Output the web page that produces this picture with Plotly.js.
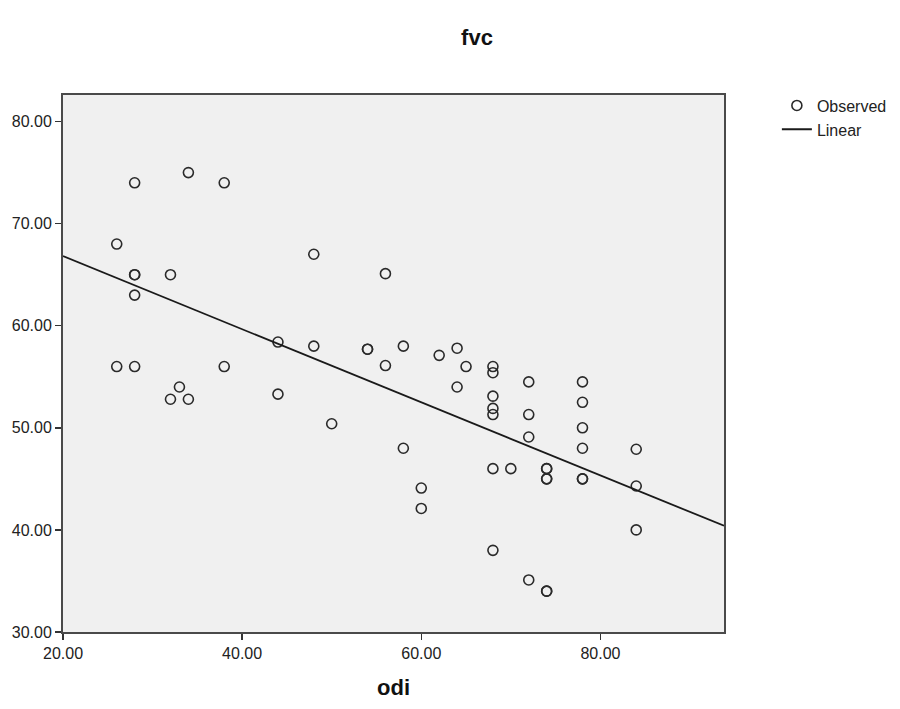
<!DOCTYPE html>
<html>
<head>
<meta charset="utf-8">
<script src="https://cdn.plot.ly/plotly-3.0.1.min.js"></script>
<style>
  body { margin: 0; background: #fff; }
  #plot { width: 900px; height: 709px; }
</style>
</head>
<body>
<div id="plot"></div>
<script>
// odi / fvc pairs
var odi = [28, 34, 38, 26, 28, 28, 32, 28, 26, 28,
           38, 33, 32, 34, 44, 44, 48, 48, 50, 54,
           54, 56, 56, 58, 58, 60, 60, 62, 64, 64,
           65, 68, 68, 68, 68, 68, 68, 68, 70, 72,
           72, 72, 72, 74, 74, 74, 74, 74, 74, 78,
           78, 78, 78, 78, 78, 84, 84, 84];
var fvc = [74, 75, 74, 68, 65, 65, 65, 63, 56, 56,
           56, 54, 52.8, 52.8, 58.4, 53.3, 67, 58, 50.4, 57.7,
           57.7, 65.1, 56.1, 58, 48, 44.1, 42.1, 57.1, 57.8, 54,
           56, 56, 55.4, 53.1, 51.9, 51.3, 46, 38, 46, 54.5,
           51.3, 49.1, 35.1, 46, 46, 45, 45, 34, 34, 54.5,
           52.5, 50, 48, 45, 45, 47.9, 44.3, 40];
var xTicks = [20, 40, 60, 80];
var yTicks = [30, 40, 50, 60, 70, 80];
var xRange = [20, 93.8];
var yRange = [30, 82.6];

// least squares fit
var n = odi.length, sx = 0, sy = 0, sxx = 0, sxy = 0;
for (var i = 0; i < n; i++) {
  sx += odi[i]; sy += fvc[i];
  sxx += odi[i] * odi[i]; sxy += odi[i] * fvc[i];
}
var slope = (n * sxy - sx * sy) / (n * sxx - sx * sx);
var icpt = (sy - slope * sx) / n;
var fitX = [xRange[0], xRange[1]];
var fitY = [icpt + slope * fitX[0], icpt + slope * fitX[1]];

var font = "Liberation Sans, Arial, sans-serif";

var data = [
  {x: odi, y: fvc, mode: "markers", type: "scatter", name: "Observed",
   marker: {symbol: "circle-open", size: 10, color: "#2a2a2a", line: {width: 1.6}},
   cliponaxis: false},
  {x: fitX, y: fitY, mode: "lines", type: "scatter", name: "Linear",
   line: {color: "#1a1a1a", width: 1.8}}
];

var layout = {
  width: 900, height: 709,
  margin: {l: 63, r: 176, t: 95, b: 77, autoexpand: false},
  paper_bgcolor: "#ffffff",
  plot_bgcolor: "#f0f0f0",
  font: {family: font, size: 16, color: "#1a1a1a"},
  title: {text: "<b>fvc</b>", font: {family: font, size: 22, color: "#111"},
          xref: "container", yref: "container", x: 0.53, y: 1 - 37 / 709,
          xanchor: "center", yanchor: "middle"},
  xaxis: {range: xRange, tickvals: xTicks, tickformat: ".2f",
          showgrid: false, zeroline: false, automargin: false,
          showline: true, mirror: true, linecolor: "#4a4a4a", linewidth: 2,
          ticks: "outside", ticklen: 6, tickwidth: 1.5, tickcolor: "#333",
          tickfont: {size: 16, color: "#222"},
          title: {text: "<b>odi</b>", font: {size: 22, color: "#111"}, standoff: 18}},
  yaxis: {range: yRange, tickvals: yTicks, tickformat: ".2f",
          showgrid: false, zeroline: false, automargin: false,
          showline: true, mirror: true, linecolor: "#4a4a4a", linewidth: 2,
          ticks: "outside", ticklen: 6, tickwidth: 1.5, tickcolor: "#333",
          tickfont: {size: 16, color: "#222"}},
  showlegend: true,
  legend: {x: 1.08, y: 1.012, xanchor: "left", yanchor: "top",
           bgcolor: "rgba(0,0,0,0)", font: {size: 16, color: "#222"},
           tracegroupgap: 0, itemwidth: 30}
};

Plotly.newPlot("plot", data, layout, {displayModeBar: false, staticPlot: true});
</script>
</body>
</html>
